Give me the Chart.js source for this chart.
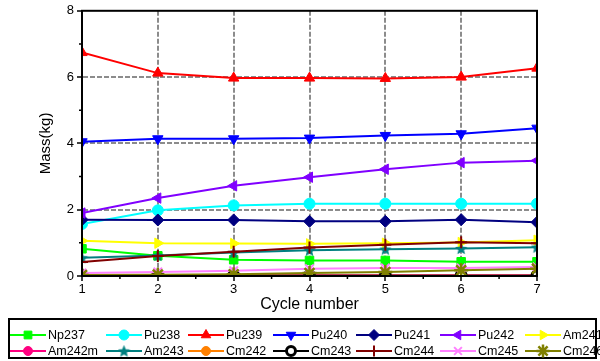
<!DOCTYPE html>
<html>
<head>
<meta charset="utf-8">
<script src="https://cdn.jsdelivr.net/npm/chart.js@4.4.1/dist/chart.umd.min.js"></script>
<style>
  html, body { margin: 0; padding: 0; background: #ffffff; }
  #wrap { width: 600px; height: 361px; position: relative; }
</style>
</head>
<body>
<div id="wrap"><canvas id="c" width="600" height="361"></canvas></div>
<script>
// Cycle numbers on the x axis
const cycles = [1, 2, 3, 4, 5, 6, 7];
const yTicks = [0, 2, 4, 6, 8];

// Nuclide masses (kg) at each cycle
const np237  = [0.82, 0.61, 0.49, 0.47, 0.47, 0.43, 0.43];
const pu238  = [1.57, 1.98, 2.13, 2.18, 2.18, 2.18, 2.18];
const pu239  = [6.74, 6.12, 5.97, 5.97, 5.96, 6.00, 6.27];
const pu240  = [4.05, 4.14, 4.14, 4.16, 4.24, 4.29, 4.46];
const pu241  = [1.70, 1.69, 1.69, 1.65, 1.65, 1.70, 1.62];
const pu242  = [1.90, 2.35, 2.72, 2.98, 3.22, 3.42, 3.48];
const am241  = [1.06, 0.99, 0.98, 0.97, 0.99, 1.01, 1.08];
const am242m = [0.03, 0.02, 0.02, 0.02, 0.02, 0.02, 0.02];
const am243  = [0.55, 0.62, 0.71, 0.78, 0.81, 0.83, 0.87];
const cm242  = [0.02, 0.01, 0.01, 0.01, 0.01, 0.01, 0.01];
const cm243  = [0.01, 0.01, 0.01, 0.01, 0.01, 0.01, 0.01];
const cm244  = [0.42, 0.60, 0.73, 0.86, 0.94, 1.02, 0.99];
const cm245  = [0.09, 0.12, 0.16, 0.22, 0.24, 0.24, 0.27];
const cm246  = [0.03, 0.04, 0.05, 0.09, 0.12, 0.17, 0.22];

const FONT = '"Liberation Sans", Arial, sans-serif';

// Filled five-pointed star used as a marker
function makeStar(color, size) {
  const c = document.createElement('canvas');
  c.width = size; c.height = size;
  const g = c.getContext('2d');
  const cx = size / 2, cy = size / 2 + 0.5, R = size / 2, r = R * 0.45;
  g.beginPath();
  for (let i = 0; i < 10; i++) {
    const rad = (i % 2 === 0) ? R : r;
    const a = -Math.PI / 2 + i * Math.PI / 5;
    const px = cx + rad * Math.cos(a), py = cy + rad * Math.sin(a);
    if (i === 0) g.moveTo(px, py); else g.lineTo(px, py);
  }
  g.closePath();
  g.fillStyle = color;
  g.fill();
  return c;
}

let seriesCount = 0;
function series(label, data, color, style, extra) {
  seriesCount += 1;
  return Object.assign({
    label: label,
    data: cycles.map((x, i) => ({ x: x, y: data[i] })),
    borderColor: color,
    backgroundColor: color,
    pointBackgroundColor: color,
    pointBorderColor: color,
    borderWidth: 2,
    pointStyle: style,
    pointRadius: 5.5,
    pointBorderWidth: 1,
    pointRotation: 0,
    tension: 0,
    order: -seriesCount   // later series are painted over earlier ones
  }, extra || {});
}

const datasets = [
  series('Np237', np237, '#00ff00', 'rect', { pointRadius: 6 }),
  series('Pu238', pu238, '#00ffff', 'circle', { pointRadius: 5.5 }),
  series('Pu239', pu239, '#ff0000', 'triangle', { pointRadius: 6 }),
  series('Pu240', pu240, '#0000ff', 'triangle', { pointRadius: 6, pointRotation: 180 }),
  series('Pu241', pu241, '#000080', 'rectRot', { pointRadius: 6 }),
  series('Pu242', pu242, '#8000ff', 'triangle', { pointRadius: 6, pointRotation: -90 }),
  series('Am241', am241, '#ffff00', 'triangle', { pointRadius: 6, pointRotation: 90 }),
  series('Am242m', am242m, '#ff0080', 'circle', { pointRadius: 5 }),
  series('Am243', am243, '#008080', makeStar('#008080', 13)),
  series('Cm242', cm242, '#ff8000', 'circle', { pointRadius: 5 }),
  series('Cm243', cm243, '#000000', 'circle', { pointRadius: 5, pointBackgroundColor: '#ffffff', pointBorderWidth: 3 }),
  series('Cm244', cm244, '#800000', 'cross', { pointRadius: 6, pointBorderWidth: 2 }),
  series('Cm245', cm245, '#ff80ff', 'crossRot', { pointRadius: 6, pointBorderWidth: 2 }),
  series('Cm246', cm246, '#808000', 'star', { pointRadius: 7, pointBorderWidth: 2.5 })
];

// Frame, minor ticks and the boxed two-row legend
const framePlugin = {
  id: 'frame',
  afterDraw(chart) {
    const { ctx, chartArea: a, scales } = chart;
    ctx.save();
    ctx.setLineDash([]);
    ctx.strokeStyle = '#000000';
    ctx.lineWidth = 2;
    ctx.strokeRect(a.left, a.top, a.right - a.left, a.bottom - a.top);
    // minor ticks
    ctx.lineWidth = 1.5;
    ctx.beginPath();
    for (let v = 1.5; v < 7; v += 1) {
      const px = scales.x.getPixelForValue(v);
      ctx.moveTo(px, a.bottom); ctx.lineTo(px, a.bottom + 3);
    }
    for (let v = 1; v < 8; v += 2) {
      const py = scales.y.getPixelForValue(v);
      ctx.moveTo(a.left, py); ctx.lineTo(a.left - 3, py);
    }
    ctx.stroke();

    // legend box
    ctx.lineWidth = 2;
    ctx.strokeRect(9, 319, 587, 39);
    const colX = [10, 106, 188, 273, 356, 440, 525];
    const rowY = [335, 351];
    ctx.font = '12.5px ' + FONT;
    ctx.textBaseline = 'middle';
    ctx.textAlign = 'left';
    chart.data.datasets.forEach((ds, i) => {
      const x0 = colX[i % 7], y0 = rowY[Math.floor(i / 7)];
      const lineLen = 36;
      ctx.strokeStyle = ds.borderColor;
      ctx.lineWidth = 2;
      ctx.beginPath();
      ctx.moveTo(x0, y0); ctx.lineTo(x0 + lineLen, y0);
      ctx.stroke();
      ctx.fillStyle = ds.pointBackgroundColor;
      ctx.strokeStyle = ds.pointBorderColor;
      ctx.lineWidth = ds.pointBorderWidth;
      Chart.helpers.drawPoint(ctx, {
        pointStyle: ds.pointStyle,
        rotation: ds.pointRotation,
        radius: ds.pointRadius - 0.5,
        borderWidth: ds.pointBorderWidth
      }, x0 + lineLen / 2, y0);
      ctx.fillStyle = '#000000';
      ctx.fillText(ds.label, x0 + lineLen + 2, y0 + 1);
    });
    ctx.restore();
  }
};

const gridColor = '#8c8c8c';

new Chart(document.getElementById('c'), {
  type: 'line',
  data: { datasets: datasets },
  options: {
    responsive: false,
    animation: false,
    layout: { padding: { left: 0, right: 63, top: 10, bottom: 47 } },
    plugins: { legend: { display: false }, tooltip: { enabled: false } },
    scales: {
      x: {
        type: 'linear',
        min: 1, max: 7,
        border: { display: true, color: '#000000', width: 2, dash: [5, 2] },
        grid: {
          color: c => (c.tick && c.tick.value > 1 && c.tick.value < 7) ? gridColor : 'rgba(0,0,0,0)',
          tickColor: '#000000',
          tickBorderDash: [],
          lineWidth: 2,
          tickWidth: 1.5,
          tickLength: 5
        },
        ticks: {
          stepSize: 1,
          color: '#000000',
          padding: 1,
          font: { family: FONT, size: 13 }
        },
        title: {
          display: true,
          text: 'Cycle number',
          color: '#000000',
          padding: { top: -2, bottom: 0 },
          font: { family: FONT, size: 16 }
        },
        afterFit: s => { s.height = 38; }
      },
      y: {
        min: 0, max: 8,
        afterBuildTicks: s => { s.ticks = yTicks.map(v => ({ value: v })); },
        border: { display: true, color: '#000000', width: 2, dash: [5, 2] },
        grid: {
          color: c => (c.tick && c.tick.value > 0 && c.tick.value < 8) ? gridColor : 'rgba(0,0,0,0)',
          tickColor: '#000000',
          tickBorderDash: [],
          lineWidth: 2,
          tickWidth: 1.5,
          tickLength: 5
        },
        ticks: {
          color: '#000000',
          padding: 3,
          font: { family: FONT, size: 13 }
        },
        title: {
          display: true,
          text: 'Mass(kg)',
          color: '#000000',
          padding: { top: 37, bottom: 0 },
          font: { family: FONT, size: 15 }
        },
        afterFit: s => { s.width = 82; }
      }
    }
  },
  plugins: [framePlugin]
});
</script>
</body>
</html>
